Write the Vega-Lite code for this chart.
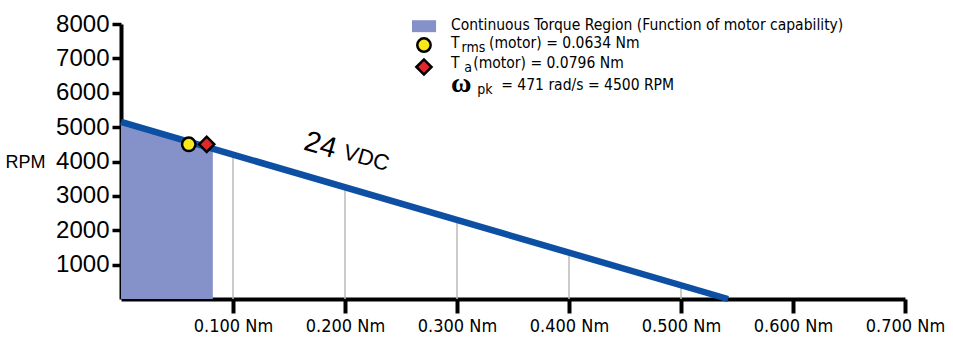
{
  "$schema": "https://vega.github.io/schema/vega-lite/v6.json",
  "width": 784,
  "height": 275,
  "autosize": {"type": "none"},
  "padding": {"left": 121, "top": 24, "right": 48, "bottom": 53},
  "background": "white",
  "config": {"view": {"stroke": null}, "font": "Liberation Sans"},
  "datasets": {
    "region": [{"torque": 0, "rpm": 5150}, {"torque": 0.082, "rpm": 4375}],
    "curve": [{"torque": 0, "rpm": 5150}, {"torque": 0.542, "rpm": 0}],
    "grid": [
      {"torque": 0.1, "base": 0, "top": 4200},
      {"torque": 0.2, "base": 0, "top": 3250},
      {"torque": 0.3, "base": 0, "top": 2300},
      {"torque": 0.4, "base": 0, "top": 1350},
      {"torque": 0.5, "base": 0, "top": 400}
    ],
    "points": [
      {"torque": 0.0605, "rpm": 4500, "kind": "Trms"},
      {"torque": 0.0765, "rpm": 4500, "kind": "Ta"}
    ],
    "legend": [
      {"torque": 0.2705, "rpm": 7389, "kind": "Trms"},
      {"torque": 0.2705, "rpm": 6749, "kind": "Ta"}
    ],
    "swatch": [{"x1": 0.2598, "x2": 0.2813, "y1": 8110, "y2": 7762}],
    "labels": [
      {"torque": 0.2946, "rpm": 7971, "text": "Continuous Torque Region (Function of motor capability)"},
      {"torque": 0.2946, "rpm": 7447, "text": "T"},
      {"torque": 0.3286, "rpm": 7447, "text": "(motor) = 0.0634 Nm"},
      {"torque": 0.2946, "rpm": 6865, "text": "T"},
      {"torque": 0.3145, "rpm": 6865, "text": "(motor) = 0.0796 Nm"},
      {"torque": 0.3395, "rpm": 6225, "text": "= 471 rad/s = 4500 RPM"}
    ],
    "subs": [
      {"torque": 0.3040, "rpm": 7290, "text": "rms"},
      {"torque": 0.3065, "rpm": 6710, "text": "a"},
      {"torque": 0.3180, "rpm": 6080, "text": "pk"}
    ],
    "omega": [{"torque": 0.2946, "rpm": 6260, "text": "ω"}],
    "vdc24": [{"torque": 0.178, "rpm": 4477, "text": "24"}],
    "vdc": [{"torque": 0.219, "rpm": 4099, "text": "VDC"}]
  },
  "layer": [
    {
      "data": {"name": "region"},
      "mark": {"type": "area", "color": "#8592c9", "opacity": 1},
      "encoding": {
        "x": {
          "field": "torque", "type": "quantitative",
          "scale": {"domain": [0, 0.7], "nice": false, "zero": false},
          "axis": {
            "title": null, "values": [0.1, 0.2, 0.3, 0.4, 0.5, 0.6, 0.7],
            "tickCount": 20,
            "labelExpr": "format(datum.value, '.3f') + ' Nm'",
            "grid": false, "domainColor": "black", "domainWidth": 4,
            "tickColor": "black", "tickWidth": 4, "tickSize": 14,
            "labelFont": "DejaVu Sans Condensed, Roboto, sans-serif", "labelFontSize": 18,
            "labelColor": "black", "labelPadding": 4, "labelFlush": false, "labelOverlap": false
          }
        },
        "y": {
          "field": "rpm", "type": "quantitative",
          "scale": {"domain": [0, 8000], "nice": false},
          "axis": {
            "title": "RPM", "titleAngle": 0, "titleFontSize": 18,
            "titleFontWeight": "normal", "titleFont": "Liberation Sans",
            "titleAlign": "left", "titleBaseline": "middle",
            "titleX": -116, "titleY": 138, "titleColor": "black",
            "values": [1000, 2000, 3000, 4000, 5000, 6000, 7000, 8000],
            "tickCount": 20,
            "format": "d", "grid": false, "labelOverlap": false,
            "domainColor": "black", "domainWidth": 4,
            "tickColor": "black", "tickWidth": 3.5, "tickSize": 9,
            "labelFontSize": 24, "labelColor": "black", "labelPadding": 3,
            "labelFont": "Liberation Sans"
          }
        }
      }
    },
    {
      "data": {"name": "grid"},
      "mark": {"type": "rule", "color": "#bbbbbb", "strokeWidth": 1.5},
      "encoding": {
        "x": {"field": "torque", "type": "quantitative"},
        "y": {"field": "base", "type": "quantitative"},
        "y2": {"field": "top"}
      }
    },
    {
      "data": {"name": "curve"},
      "mark": {"type": "line", "color": "#0d4fa3", "strokeWidth": 6.5, "clip": false},
      "encoding": {
        "x": {"field": "torque", "type": "quantitative"},
        "y": {"field": "rpm", "type": "quantitative"}
      }
    },
    {
      "data": {"name": "swatch"},
      "mark": {"type": "rect", "color": "#8592c9", "clip": false},
      "encoding": {
        "x": {"field": "x1", "type": "quantitative"},
        "x2": {"field": "x2"},
        "y": {"field": "y1", "type": "quantitative"},
        "y2": {"field": "y2"}
      }
    },
    {
      "data": {"name": "points"},
      "mark": {"type": "point", "filled": true, "stroke": "black", "strokeWidth": 2.5, "opacity": 1, "clip": false},
      "encoding": {
        "x": {"field": "torque", "type": "quantitative"},
        "y": {"field": "rpm", "type": "quantitative"},
        "shape": {"field": "kind", "type": "nominal", "scale": {"domain": ["Trms", "Ta"], "range": ["circle", "diamond"]}, "legend": null},
        "fill": {"field": "kind", "type": "nominal", "scale": {"domain": ["Trms", "Ta"], "range": ["#f7e81a", "#e3262a"]}, "legend": null},
        "size": {"field": "kind", "type": "nominal", "scale": {"domain": ["Trms", "Ta"], "range": [180, 230]}, "legend": null}
      }
    },
    {
      "data": {"name": "legend"},
      "mark": {"type": "point", "filled": true, "stroke": "black", "strokeWidth": 2.5, "opacity": 1, "clip": false},
      "encoding": {
        "x": {"field": "torque", "type": "quantitative"},
        "y": {"field": "rpm", "type": "quantitative"},
        "shape": {"field": "kind", "type": "nominal", "legend": null},
        "fill": {"field": "kind", "type": "nominal", "legend": null},
        "size": {"field": "kind", "type": "nominal", "legend": null}
      }
    },
    {
      "data": {"name": "labels"},
      "mark": {"type": "text", "align": "left", "baseline": "middle", "color": "black", "clip": false, "font": "DejaVu Sans Condensed, Roboto, sans-serif", "fontSize": 15.5},
      "encoding": {
        "x": {"field": "torque", "type": "quantitative"},
        "y": {"field": "rpm", "type": "quantitative"},
        "text": {"field": "text"}
      }
    },
    {
      "data": {"name": "subs"},
      "mark": {"type": "text", "align": "left", "baseline": "middle", "color": "black", "clip": false, "font": "DejaVu Sans Condensed, Roboto, sans-serif", "fontSize": 14},
      "encoding": {
        "x": {"field": "torque", "type": "quantitative"},
        "y": {"field": "rpm", "type": "quantitative"},
        "text": {"field": "text"}
      }
    },
    {
      "data": {"name": "omega"},
      "mark": {"type": "text", "align": "left", "baseline": "middle", "color": "black", "clip": false, "font": "Liberation Serif", "fontSize": 28, "fontWeight": "bold"},
      "encoding": {
        "x": {"field": "torque", "type": "quantitative"},
        "y": {"field": "rpm", "type": "quantitative"},
        "text": {"field": "text"}
      }
    },
    {
      "data": {"name": "vdc24"},
      "mark": {"type": "text", "align": "center", "baseline": "middle", "angle": 16, "color": "black", "clip": false, "font": "Liberation Sans", "fontSize": 29},
      "encoding": {
        "x": {"field": "torque", "type": "quantitative"},
        "y": {"field": "rpm", "type": "quantitative"},
        "text": {"field": "text"}
      }
    },
    {
      "data": {"name": "vdc"},
      "mark": {"type": "text", "align": "center", "baseline": "middle", "angle": 16, "color": "black", "clip": false, "font": "Liberation Sans", "fontSize": 22},
      "encoding": {
        "x": {"field": "torque", "type": "quantitative"},
        "y": {"field": "rpm", "type": "quantitative"},
        "text": {"field": "text"}
      }
    }
  ]
}
